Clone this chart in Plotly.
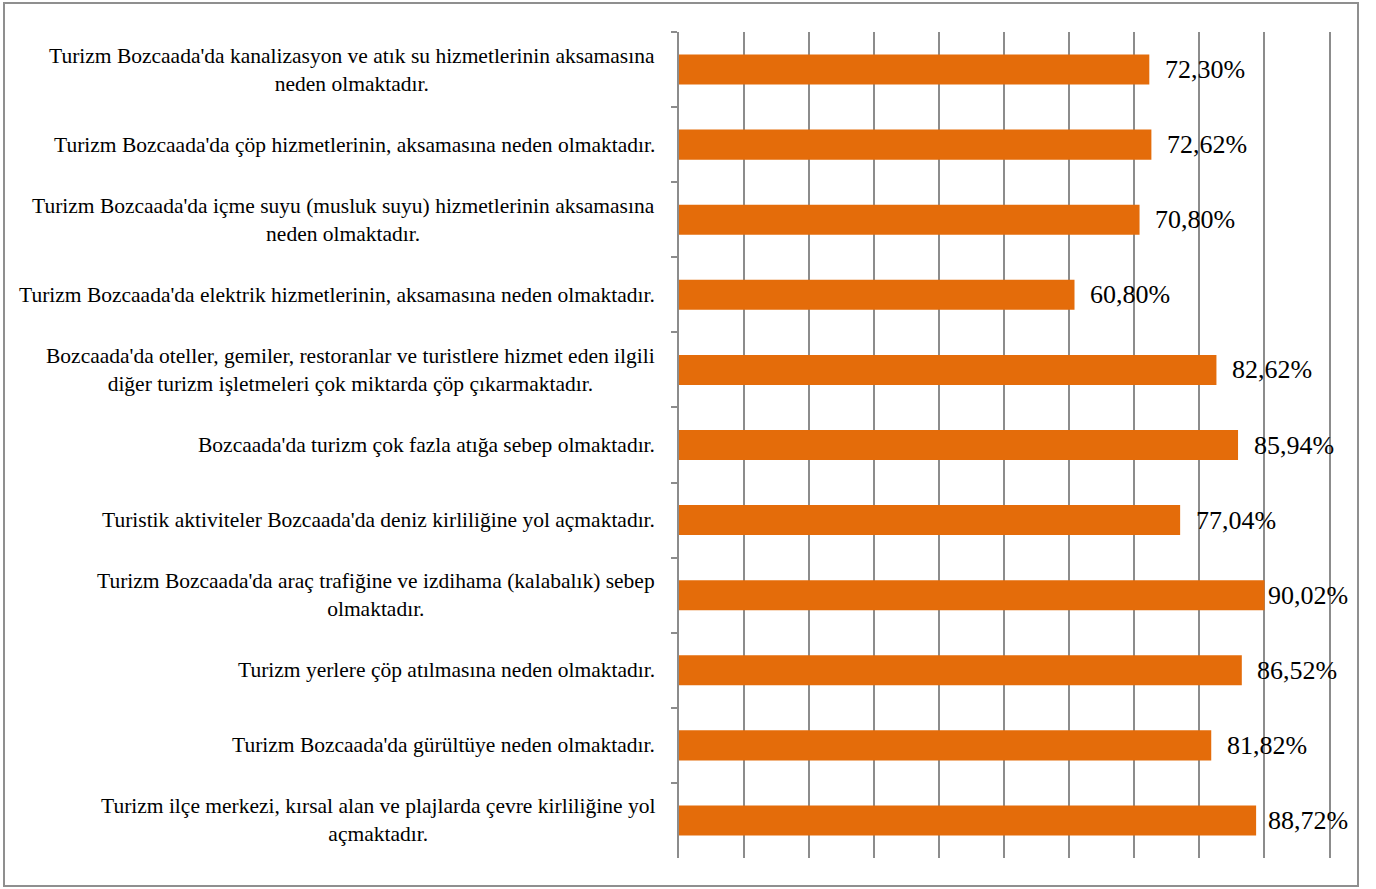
import plotly.graph_objects as go

# Survey statements (top to bottom) and agreement shares in percent
statements = [
    "Turizm Bozcaada'da kanalizasyon ve atık su hizmetlerinin aksamasına<br>neden olmaktadır.",
    "Turizm Bozcaada'da çöp hizmetlerinin, aksamasına neden olmaktadır.",
    "Turizm Bozcaada'da içme suyu (musluk suyu) hizmetlerinin aksamasına<br>neden olmaktadır.",
    "Turizm Bozcaada'da elektrik hizmetlerinin, aksamasına neden olmaktadır.",
    "Bozcaada'da oteller, gemiler, restoranlar ve turistlere hizmet eden ilgili<br>diğer turizm işletmeleri çok miktarda çöp çıkarmaktadır.",
    "Bozcaada'da turizm çok fazla atığa sebep olmaktadır.",
    "Turistik aktiviteler Bozcaada'da deniz kirliliğine yol açmaktadır.",
    "Turizm Bozcaada'da araç trafiğine ve izdihama (kalabalık) sebep<br>olmaktadır.",
    "Turizm yerlere çöp atılmasına neden olmaktadır.",
    "Turizm Bozcaada'da gürültüye neden olmaktadır.",
    "Turizm ilçe merkezi, kırsal alan ve plajlarda çevre kirliliğine yol<br>açmaktadır.",
]
shares = [72.30, 72.62, 70.80, 60.80, 82.62, 85.94, 77.04, 90.02, 86.52, 81.82, 88.72]

FONT = "Liberation Serif, Times New Roman, serif"
BAR = "#E46C0A"
GRID = "#8c8c8c"

W, H = 1376, 889
ML, MR, MT, MB = 679, 40, 32, 31
XMAX = 101  # a little beyond 100 so the 100% gridline is drawn

fig = go.Figure(
    go.Bar(
        x=shares,
        y=statements,
        orientation="h",
        marker=dict(color=BAR, line=dict(width=0)),
        hoverinfo="skip",
    )
)

annotations = []
# statement labels, centred block right-aligned against the axis
for s in statements:
    annotations.append(dict(
        x=0, xref="paper", y=s, yref="y",
        xanchor="right", yanchor="middle", xshift=-22,
        text=s, align="center", showarrow=False,
        font=dict(family=FONT, size=21.5, color="black"),
    ))
# value labels, kept inside the chart frame near the right edge
for s, v in zip(statements, shares):
    annotations.append(dict(
        x=min(v + 2.1, 90.3), xref="x", y=s, yref="y",
        xanchor="left", yanchor="middle",
        text=f"{v:.2f}".replace(".", ",") + "%",
        showarrow=False,
        font=dict(family=FONT, size=26, color="black"),
    ))

# outer chart frame
pw = W - ML - MR
ph = H - MT - MB
fx0 = (4 - ML) / pw
fx1 = (1358 - ML) / pw
fy0 = 1 - (886 - MT) / ph
fy1 = 1 - (3 - MT) / ph

fig.update_layout(
    width=W, height=H,
    margin=dict(l=ML, r=MR, t=MT, b=MB),
    paper_bgcolor="white", plot_bgcolor="white",
    bargap=0.6,
    showlegend=False,
    annotations=annotations,
    shapes=[dict(
        type="rect", xref="paper", yref="paper",
        x0=fx0, x1=fx1, y0=fy0, y1=fy1,
        line=dict(color="#8f8f8f", width=2), layer="below",
    )],
    xaxis=dict(
        range=[0, XMAX], tick0=0, dtick=10, showgrid=True, gridcolor=GRID, gridwidth=1.5,
        showticklabels=False, zeroline=False, showline=False, ticks="",
    ),
    yaxis=dict(
        autorange="reversed", showticklabels=False, showgrid=False,
        showline=True, linecolor=GRID, linewidth=1.5,
        ticks="outside", tickson="boundaries", ticklen=6,
        tickcolor=GRID, tickwidth=1.5,
    ),
)

fig.write_html("out.html")
